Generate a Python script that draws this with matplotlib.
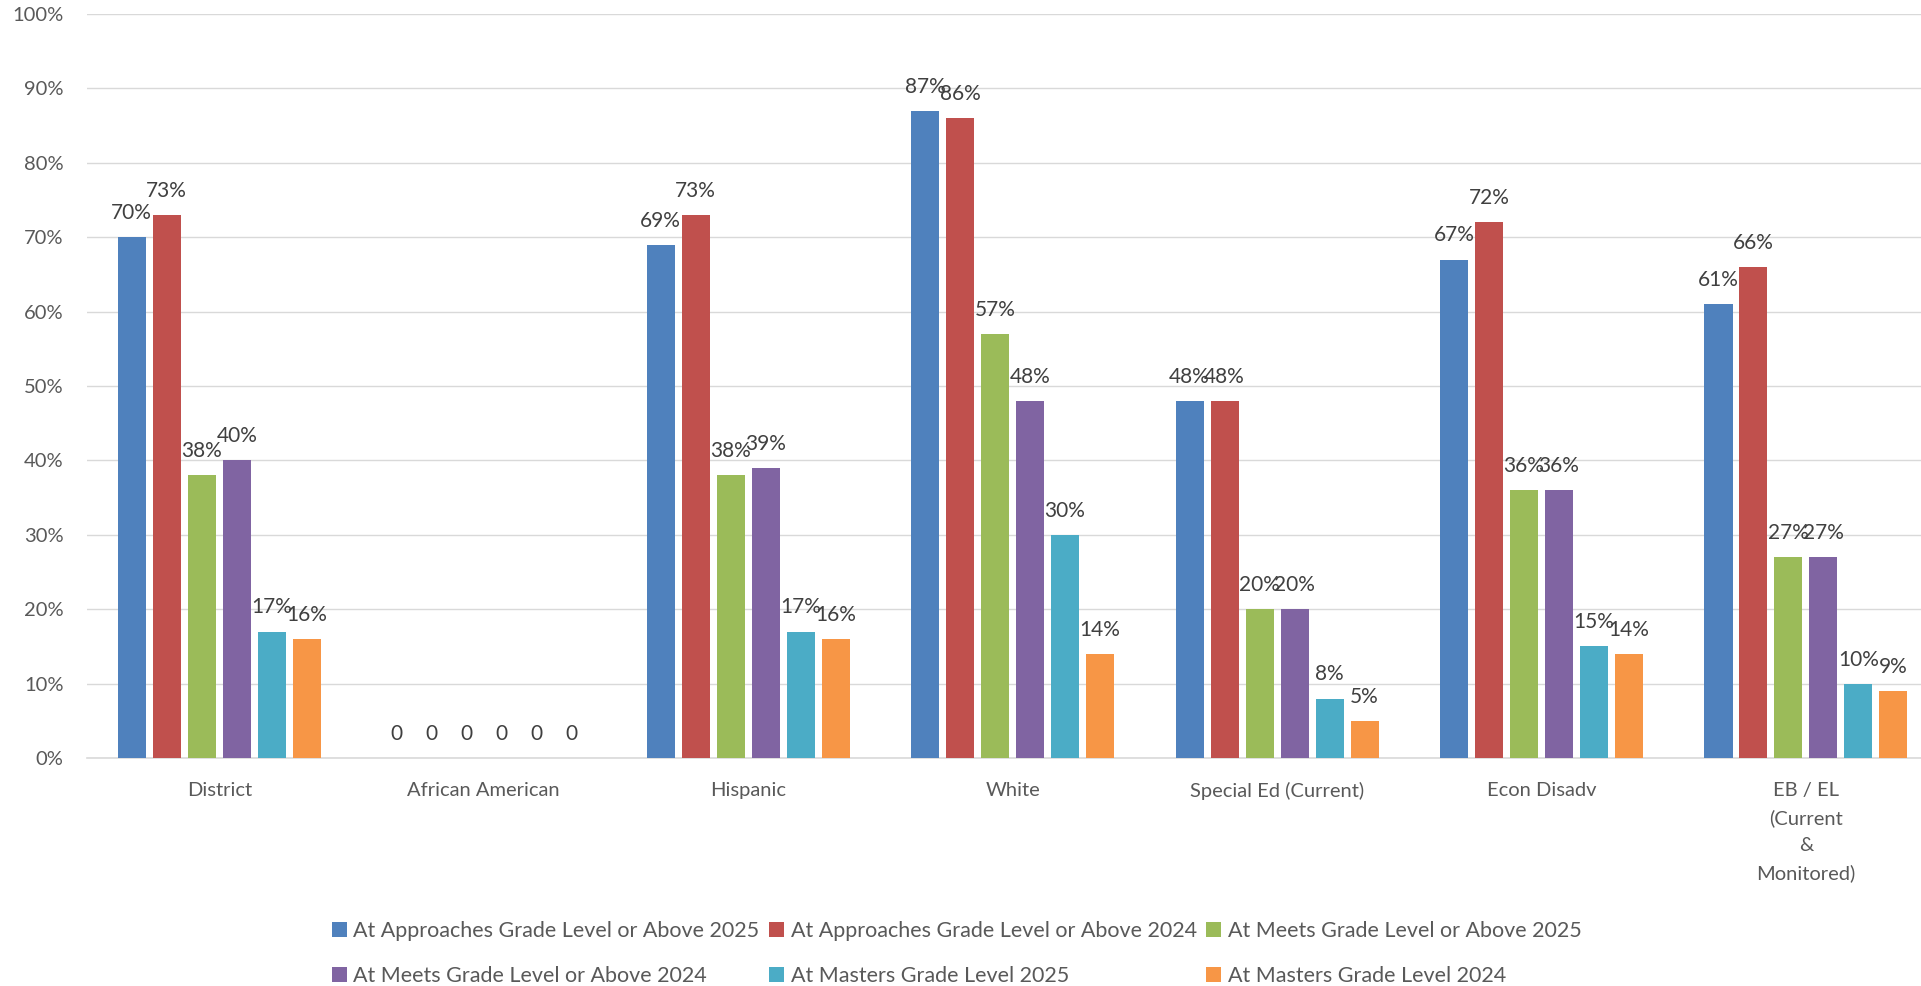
"""
plot.py
-------
Grouped bar chart of STAAR performance levels by student group,
2025 vs 2024.

Output:
    out.png
"""

import matplotlib.pyplot as plt
from matplotlib.ticker import FuncFormatter

plt.rcParams['font.family'] = ['Lato', 'DejaVu Sans']

# ── Data ──
groups = [
    "District",
    "African American",
    "Hispanic",
    "White",
    "Special Ed (Current)",
    "Econ Disadv",
    "EB / EL\n(Current\n&\nMonitored)",
]

series_names = [
    "At Approaches Grade Level or Above 2025",
    "At Approaches Grade Level or Above 2024",
    "At Meets Grade Level or Above 2025",
    "At Meets Grade Level or Above 2024",
    "At Masters Grade Level 2025",
    "At Masters Grade Level 2024",
]

approaches_2025 = [70, 0, 69, 87, 48, 67, 61]
approaches_2024 = [73, 0, 73, 86, 48, 72, 66]
meets_2025      = [38, 0, 38, 57, 20, 36, 27]
meets_2024      = [40, 0, 39, 48, 20, 36, 27]
masters_2025    = [17, 0, 17, 30,  8, 15, 10]
masters_2024    = [16, 0, 16, 14,  5, 14,  9]

colors = ["#4F81BD", "#C0504D", "#9BBB59", "#8064A2", "#4BACC6", "#F79646"]

all_series = [approaches_2025, approaches_2024, meets_2025,
              meets_2024, masters_2025, masters_2024]

# ── Figure ──
fig = plt.figure(figsize=(19.21, 9.86), dpi=100)
ax = fig.add_axes([0.0453, 0.2312, 0.9547, 0.7546])

pitch = 0.1323
width = 0.106

handles = []
for i, (vals, name, color) in enumerate(zip(all_series, series_names, colors)):
    xs = [g + (i - 2.5) * pitch for g in range(len(groups))]
    bars = ax.bar(xs, vals, width=width, color=color, label=name, zorder=3)
    handles.append(bars)
    # data labels (overlapping labels are kept, as in the original)
    for b, v in zip(bars, vals):
        label = "0" if v == 0 else f"{v}%"
        ax.annotate(label, (b.get_x() + b.get_width() / 2, v),
                    xytext=(0, 13), textcoords="offset points",
                    ha="center", va="baseline", fontsize=15, color="#404040")

# ── Axes styling ──
ax.set_xlim(-0.5, 6.435)
ax.set_ylim(0, 100)
ax.set_yticks(range(0, 101, 10))
ax.yaxis.set_major_formatter(FuncFormatter(lambda y, _: f"{int(y)}%"))
ax.set_xticks(range(len(groups)))
ax.set_xticklabels(groups, linespacing=1.7)

ax.tick_params(axis="y", length=0, pad=17, labelsize=14.5, labelcolor="#595959")
ax.tick_params(axis="x", length=0, pad=17, labelsize=14.5, labelcolor="#595959")

ax.grid(axis="y", color="#D9D9D9", linewidth=1.0, zorder=0)
ax.set_axisbelow(True)
for side in ["top", "left", "right"]:
    ax.spines[side].set_visible(False)
ax.spines["bottom"].set_color("#D9D9D9")
ax.spines["bottom"].set_linewidth(1.2)

# ── Legend (row-major order, like Excel) ──
order = [0, 3, 1, 4, 2, 5]
fig.legend([handles[k] for k in order], [series_names[k] for k in order],
           loc="center", bbox_to_anchor=(0.498, 0.033), ncol=3,
           frameon=False, fontsize=15.5, labelcolor="#595959",
           handlelength=0.7, handleheight=0.7, handletextpad=0.3,
           columnspacing=0.45, labelspacing=1.15)

plt.savefig("out.png", dpi=100)
plt.close()
